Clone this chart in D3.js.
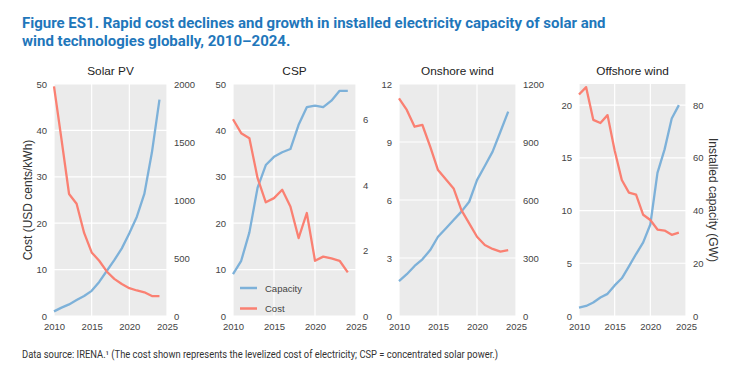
<!DOCTYPE html>
<html><head><meta charset="utf-8">
<script src="https://cdn.jsdelivr.net/npm/d3@7"></script>
<style>
body{margin:0;background:#fff;}
svg{display:block;}
</style></head>
<body>
<svg id="chart" width="752" height="383"></svg>
<script>
const years = [2010,2011,2012,2013,2014,2015,2016,2017,2018,2019,2020,2021,2022,2023,2024];
const panelTitles = ["Solar PV","CSP","Onshore wind","Offshore wind"];
const xTicks = [2010,2015,2020,2025];

const solarCost = [49.5,38,26.3,24.2,17.9,13.7,11.9,9.6,8.0,6.9,6.0,5.5,5.1,4.3,4.3];
const solarCap  = [40,72,100,137,173,217,294,388,481,583,714,856,1055,1411,1865];
const cspCost   = [42.4,39.4,38.3,29.7,24.5,25.4,27.2,23.6,16.8,22.2,11.9,12.8,12.4,11.9,9.4];
const cspCap    = [1.28,1.69,2.56,3.93,4.62,4.87,5.01,5.11,5.85,6.39,6.44,6.39,6.59,6.89,6.89];
const onCost    = [11.26,10.66,9.79,9.88,8.76,7.55,7.07,6.60,5.48,4.79,4.10,3.67,3.47,3.33,3.41];
const onCap     = [181,216,259,293,341,410,453,497,540,591,703,776,850,953,1057];
const offCost   = [21.0,21.7,18.6,18.3,19.05,15.7,12.9,11.7,11.5,9.6,9.1,8.2,8.1,7.7,7.9];
const offCap    = [3.2,3.8,5.1,7.0,8.4,11.6,14.3,18.8,23.5,27.9,34.7,54.3,63.2,74.9,80.0];

const leftTicks  = [[0,10,20,30,40,50],[0,10,20,30,40,50],[0,3,6,9,12],[0,5,10,15,20]];
const rightTicks = [[0,500,1000,1500,2000],[0,2,4,6],[0,300,600,900,1200],[0,20,40,60,80]];
const leftMax  = [50,50,12,22];
const rightMax = [2000,7.1,1200,88];
const costSeries = [solarCost,cspCost,onCost,offCost];
const capSeries  = [solarCap,cspCap,onCap,offCap];

const titleLines = ["Figure ES1. Rapid cost declines and growth in installed electricity capacity of solar and",
                    "wind technologies globally, 2010\u20132024."];
const footnote = "Data source: IRENA.\u00b9 (The cost shown represents the levelized cost of electricity; CSP = concentrated solar power.)";
const legendLabels = ["Capacity","Cost"];
const yLeftLabel = "Cost (USD cents/kWh)";
const yRightLabel = "Installed capacity (GW)";

const BLUE = "#7db1d9", RED = "#fa8072", BG = "#ebebeb", TICK = "#444";
const FONT = "'Liberation Sans', Arial, sans-serif";
const plotBoxes = [[54,167],[233,356],[399,516],[579,686]];
const plotTop = 84, plotBottom = 316;

const svg = d3.select("#chart");

const tt = svg.append("text").attr("font-family","Roboto, 'Open Sans', sans-serif")
  .attr("font-weight","bold").attr("font-size","15px").attr("fill","#1f77bb");
titleLines.forEach((l,i)=>tt.append("tspan").attr("x",22).attr("y",28+i*18).text(l));

panelTitles.forEach((name,i)=>{
  const [x0,x1] = plotBoxes[i];
  const x = d3.scaleLinear().domain([2010,2025]).range([x0,x1]);
  const yl = d3.scaleLinear().domain([0,leftMax[i]]).range([plotBottom,plotTop]);
  const yr = d3.scaleLinear().domain([0,rightMax[i]]).range([plotBottom,plotTop]);
  const g = svg.append("g");
  g.append("rect").attr("x",x0).attr("y",plotTop).attr("width",x1-x0).attr("height",plotBottom-plotTop).attr("fill",BG);
  g.selectAll(".gy").data(leftTicks[i]).join("line")
    .attr("x1",x0).attr("x2",x1).attr("y1",d=>yl(d)).attr("y2",d=>yl(d))
    .attr("stroke","#fff").attr("stroke-width",1.2);
  g.selectAll(".gx").data(xTicks).join("line")
    .attr("y1",plotTop).attr("y2",plotBottom).attr("x1",d=>x(d)).attr("x2",d=>x(d))
    .attr("stroke","#fff").attr("stroke-width",1.2);
  const fmt = d3.format("d");
  const gxA = g.append("g").attr("transform",`translate(0,${plotBottom})`)
    .call(d3.axisBottom(x).tickValues(xTicks).tickFormat(fmt).tickSize(0).tickPadding(7));
  const glA = g.append("g").attr("transform",`translate(${x0},0)`)
    .call(d3.axisLeft(yl).tickValues(leftTicks[i]).tickFormat(fmt).tickSize(0).tickPadding(7));
  const grA = g.append("g").attr("transform",`translate(${x1},0)`)
    .call(d3.axisRight(yr).tickValues(rightTicks[i]).tickFormat(fmt).tickSize(0).tickPadding(7));
  [gxA,glA,grA].forEach(a=>{
    a.select(".domain").remove();
    a.selectAll("text").attr("font-family",FONT).attr("font-size","9.5px").attr("fill",TICK);
  });
  const lineL = d3.line().x((d,j)=>x(years[j])).y(d=>yl(d));
  const lineR = d3.line().x((d,j)=>x(years[j])).y(d=>yr(d));
  g.append("path").datum(capSeries[i]).attr("d",lineR).attr("fill","none")
    .attr("stroke",BLUE).attr("stroke-width",2.3).attr("stroke-linejoin","round");
  g.append("path").datum(costSeries[i]).attr("d",lineL).attr("fill","none")
    .attr("stroke",RED).attr("stroke-width",2.3).attr("stroke-linejoin","round");
  g.append("text").attr("x",(x0+x1)/2).attr("y",75).attr("text-anchor","middle")
    .attr("font-family",FONT).attr("font-size","11.8px").attr("fill","#222").text(name);
  if(i===1){
    const lg = g.append("g");
    [BLUE,RED].forEach((c,k)=>{
      const yy = 288 + k*20.5;
      lg.append("line").attr("x1",x0+7).attr("x2",x0+24).attr("y1",yy).attr("y2",yy)
        .attr("stroke",c).attr("stroke-width",2.5);
      lg.append("text").attr("x",x0+32).attr("y",yy+3.5)
        .attr("font-family",FONT).attr("font-size","9.5px").attr("fill",TICK).text(legendLabels[k]);
    });
  }
});

svg.append("text").attr("transform","translate(32,200) rotate(-90)").attr("text-anchor","middle")
  .attr("font-family",FONT).attr("font-size","12px").attr("fill","#333").text(yLeftLabel);
svg.append("text").attr("transform","translate(709,200) rotate(90)").attr("text-anchor","middle")
  .attr("font-family",FONT).attr("font-size","12px").attr("fill","#333").text(yRightLabel);

svg.append("text").attr("x",22).attr("y",358).attr("font-family","Roboto, sans-serif")
  .attr("font-size","10px").attr("fill","#333").attr("textLength",476).attr("lengthAdjust","spacingAndGlyphs")
  .text(footnote);
</script>
</body></html>
